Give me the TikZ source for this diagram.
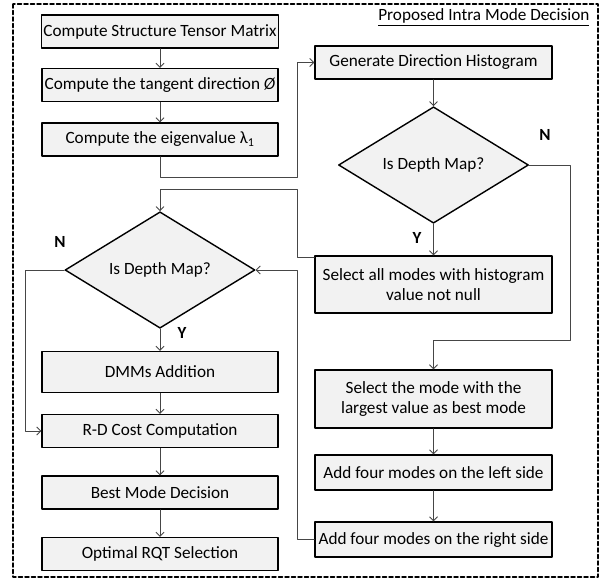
\documentclass[tikz,border=0pt]{standalone}
\usepackage{fontspec}
\setmainfont{Carlito}
\usetikzlibrary{shapes.geometric,arrows.meta}

\definecolor{boxgray}{RGB}{242,242,242}
\definecolor{linkgray}{RGB}{70,70,70}

\begin{document}
\begin{tikzpicture}[x=1pt, y=-1pt, >={Straight Barb[length=4pt,width=8pt]},
  line cap=round, line join=round,
  proc/.style={draw=black, line width=1.4pt, fill=boxgray, minimum width=236pt,
    minimum height=33pt, inner sep=2pt, align=center,
    font=\fontsize{17.2}{20}\selectfont},
  dec/.style={diamond, draw=black, line width=1.4pt, fill=boxgray,
    minimum width=190pt, minimum height=115pt, inner sep=0pt,
    font=\fontsize{17.2}{20}\selectfont},
  link/.style={draw=linkgray, line width=0.8pt},
  yn/.style={font=\bfseries\fontsize{17}{20}\selectfont}]

  \useasboundingbox (0,0) rectangle (602,582);

  % Parameters
  \def\xL{160}    % left column center
  \def\xR{433.5}  % right column center
  \def\xM{297}    % vertical bus between the columns

  % ---- Frame and title ----
  \draw[line width=1.5pt, dash pattern=on 4pt off 2.5pt] (13,4) rectangle (598,577);
  \node[anchor=east, font=\fontsize{17.2}{20}\selectfont] (title) at (593,17)
    {\underline{Proposed Intra Mode Decision}};

  % ---- Left column ----
  \node[proc] (tensor) at (\xL,31.5) {Compute Structure Tensor Matrix};
  \node[proc] (tangent) at (\xL,85) {Compute the tangent direction \textit{Ø}};
  \node[proc] (eigen) at (\xL,139.5) {Compute the eigenvalue λ\textsubscript{1}};
  \node[dec] (depthL) at (\xL,270) {Is Depth Map?};
  \node[proc, minimum height=41pt] (dmm) at (\xL,372) {DMMs Addition};
  \node[proc] (rdcost) at (\xL,431) {R-D Cost Computation};
  \node[proc] (best) at (\xL,492.5) {Best Mode Decision};
  \node[proc] (rqt) at (\xL,554) {Optimal RQT Selection};

  % ---- Right column ----
  \node[proc, minimum width=237pt] (hist) at (\xR,62.5) {Generate Direction Histogram};
  \node[dec] (depthR) at (\xR,165) {Is Depth Map?};
  \node[proc, minimum width=237pt, minimum height=57pt] (selall) at (\xR,284.5)
    {Select all modes with histogram\\value not null};
  \node[proc, minimum width=237pt, minimum height=58pt] (selbest) at (\xR,399)
    {Select the mode with the\\largest value as best mode};
  \node[proc, minimum width=237pt, minimum height=35pt] (addleft) at (\xR,472.5)
    {Add four modes on the left side};
  \node[proc, minimum width=237pt, minimum height=35pt] (addright) at (\xR,539.5)
    {Add four modes on the right side};

  % ---- Yes / No labels ----
  \node[yn] (nR) at (545,135) {N};
  \node[yn] (yR) at (417,238) {Y};
  \node[yn] (nL) at (60,242) {N};
  \node[yn] (yL) at (182,333) {Y};

  % ---- Bends ----
  \coordinate (b1) at (\xM,177);
  \coordinate (b2) at (570,165);
  \coordinate (b3) at (570,340);
  \coordinate (b4) at (\xM,189);
  \coordinate (b5) at (25,431);
  \coordinate (b6) at (\xM,270);

  % ---- Connectors ----
  \draw[link,->] (tensor) -- (tangent);
  \draw[link,->] (tangent) -- (eigen);
  \draw[link,->] (eigen.south) |- (b1) |- (hist.west);
  \draw[link,->] (hist) -- (depthR);
  \draw[link,->] (depthR) -- (selall);
  \draw[link,->] (depthR.east) -- (b2) -- (b3) -| (selbest.north);
  \draw[link,->] (selbest) -- (addleft);
  \draw[link,->] (addleft) -- (addright);
  \draw[link,->] (addright.west) -| (b6) -- (depthL.east);
  \draw[link,->] ([yshift=-2pt]selall.north west) -| (b4) -| (depthL.north);
  \draw[link,->] (depthL) -- (dmm);
  \draw[link,->] (depthL.west) -| (b5) -- (rdcost.west);
  \draw[link,->] (dmm) -- (rdcost);
  \draw[link,->] (rdcost) -- (best);
  \draw[link,->] (best) -- (rqt);

\end{tikzpicture}
\end{document}
